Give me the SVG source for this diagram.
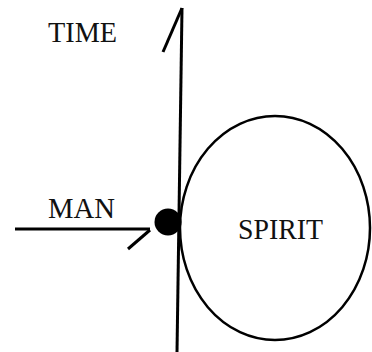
<svg xmlns="http://www.w3.org/2000/svg" width="372" height="352" viewBox="0 0 372 352">
<style>
.ln{stroke:#000;stroke-width:3;fill:none;stroke-linecap:butt}
.lbl{font-family:"Liberation Serif","Times New Roman",serif;font-size:30px;fill:#111}
</style>
<rect width="372" height="352" fill="#fff"/>
<g id="connectors">
<path class="ln" d="M182,8 L177,352"/>
<path class="ln" d="M182,8 L163,52" stroke-width="3.5"/>
<path class="ln" d="M15,229 L150,229"/>
<path class="ln" d="M150,230 L128,249" stroke-width="3.5"/>
</g>
<g id="time"><text class="lbl" x="48" y="42" textLength="69" lengthAdjust="spacingAndGlyphs">TIME</text></g>
<g id="spirit">
<ellipse cx="275" cy="228" rx="95" ry="112" fill="none" stroke="#000" stroke-width="2.5"/>
<text class="lbl" x="238" y="239" textLength="85" lengthAdjust="spacingAndGlyphs">SPIRIT</text>
</g>
<g id="man">
<circle cx="168" cy="222" r="13.5" fill="#000"/>
<text class="lbl" x="48" y="218" textLength="67" lengthAdjust="spacingAndGlyphs">MAN</text>
</g>
</svg>
